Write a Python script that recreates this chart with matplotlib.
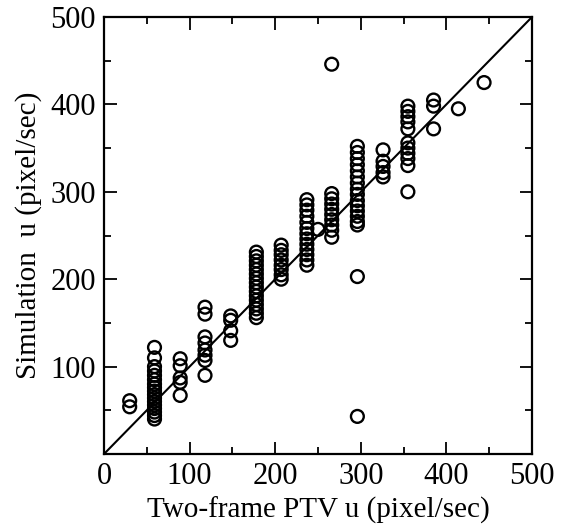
import matplotlib
matplotlib.use("Agg")
import matplotlib.pyplot as plt
from matplotlib.ticker import MultipleLocator

plt.rcParams['font.family'] = ['Liberation Serif', 'DejaVu Serif']

# PTV columns (x) and simulation values (y)
col_x = [30, 59, 89, 118, 148, 178, 207, 237, 250, 266, 296, 326, 355, 385, 414, 444]
col_y = [
    [61, 54],
    [122, 110, 100, 95, 90, 85, 80, 76, 72, 68, 64, 60, 56, 52, 48, 44, 40],
    [109, 101, 87, 82, 67],
    [168, 160, 134, 127, 119, 113, 107, 90],
    [158, 153, 141, 130],
    [231, 226, 221, 216, 211, 206, 201, 196, 191, 186, 181, 176, 171, 166, 161, 156],
    [239, 233, 228, 222, 216, 211, 205, 200],
    [291, 285, 279, 272, 265, 258, 252, 246, 240, 234, 228, 222, 216],
    [257],
    [446, 298, 292, 286, 280, 274, 268, 262, 256, 248],
    [352, 345, 338, 331, 324, 317, 310, 303, 297, 290, 284, 278, 272, 266, 262, 203, 43],
    [348, 335, 329, 322, 317],
    [398, 392, 386, 380, 372, 356, 350, 344, 338, 330, 300],
    [405, 398, 372],
    [395],
    [425],
]
line_x = [0, 500]
line_y = [0, 500]
tick_vals = [0, 100, 200, 300, 400, 500]
x_tick_labels = ['0', '100', '200', '300', '400', '500']
y_tick_labels = ['', '100', '200', '300', '400', '500']

xs, ys = [], []
for x, yl in zip(col_x, col_y):
    for y in yl:
        xs.append(x)
        ys.append(y)

fig = plt.figure(figsize=(5.61, 5.32), dpi=100)
ax = fig.add_axes([104/561, 1-454/532, (532-104)/561, (454-17)/532])

ax.plot(line_x, line_y, color='black', lw=1.5, zorder=2)
ax.scatter(xs, ys, s=85, facecolors='none', edgecolors='black', linewidths=1.7, zorder=3)

ax.set_xlim(0, 500)
ax.set_ylim(0, 500)
ax.set_xticks(tick_vals)
ax.set_xticklabels(x_tick_labels)
ax.set_yticks(tick_vals)
ax.set_yticklabels(y_tick_labels)
ax.xaxis.set_minor_locator(MultipleLocator(50))
ax.yaxis.set_minor_locator(MultipleLocator(50))
ax.tick_params(which='both', direction='in', top=True, right=True, width=1.3)
ax.tick_params(which='major', length=9, labelsize=22, pad=6)
ax.tick_params(which='minor', length=5)
for sp in ax.spines.values():
    sp.set_linewidth(1.6)

ax.set_xlabel('Two-frame PTV u (pixel/sec)', fontsize=21, labelpad=4)
ax.set_ylabel('Simulation  u (pixel/sec)', fontsize=21, labelpad=6)

fig.savefig('out.png', dpi=100)
